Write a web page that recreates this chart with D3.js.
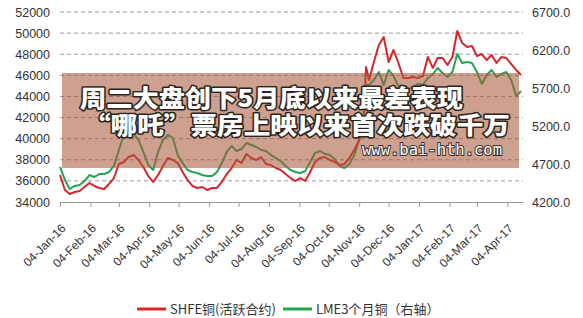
<!DOCTYPE html>
<html>
<head>
<meta charset="utf-8">
<script src="https://cdn.jsdelivr.net/npm/d3@7"></script>
<style>
  body { margin: 0; background: #fff; }
  #chart svg { display: block; }
</style>
</head>
<body>
<div id="chart"></div>
<script>
// sample dates (roughly every 5 days)
const dates = [
  "2016-01-04","2016-01-09","2016-01-14","2016-01-19","2016-01-24","2016-01-29",
  "2016-02-03","2016-02-08","2016-02-13","2016-02-18","2016-02-23","2016-02-28",
  "2016-03-04","2016-03-09","2016-03-14","2016-03-19","2016-03-24","2016-03-29",
  "2016-04-03","2016-04-08","2016-04-13","2016-04-18","2016-04-23","2016-04-28",
  "2016-05-03","2016-05-08","2016-05-13","2016-05-18","2016-05-23","2016-05-28",
  "2016-06-02","2016-06-07","2016-06-12","2016-06-17","2016-06-22","2016-06-27",
  "2016-07-02","2016-07-07","2016-07-12","2016-07-17","2016-07-22","2016-07-27",
  "2016-08-01","2016-08-06","2016-08-11","2016-08-16","2016-08-21","2016-08-26","2016-08-31",
  "2016-09-05","2016-09-10","2016-09-15","2016-09-20","2016-09-25","2016-09-30",
  "2016-10-05","2016-10-10","2016-10-15","2016-10-20","2016-10-25","2016-10-30",
  "2016-11-04","2016-11-09","2016-11-11","2016-11-14","2016-11-19","2016-11-24","2016-11-29",
  "2016-12-04","2016-12-09","2016-12-14","2016-12-19","2016-12-24","2016-12-29",
  "2017-01-03","2017-01-08","2017-01-13","2017-01-18","2017-01-23","2017-01-28",
  "2017-02-02","2017-02-07","2017-02-12","2017-02-17","2017-02-22","2017-02-27",
  "2017-03-04","2017-03-09","2017-03-14","2017-03-19","2017-03-24","2017-03-29",
  "2017-04-03","2017-04-08","2017-04-13","2017-04-18"
];

const shfe = [
  36560, 35140, 34760, 34950, 35040, 35420,
  35800, 35520, 35330, 35230, 35710, 36270,
  37600, 37790, 38260, 38450, 37980, 37320,
  36460, 35900, 36560, 37410, 38170, 37980,
  37700, 36840, 36080, 35520, 35330, 35420,
  35140, 35330, 35330, 35900, 36650, 37220,
  37980, 37700, 38550, 38170, 37980, 38260,
  37600, 37500, 37220, 37030, 36650, 36270, 35990,
  36270, 35990, 36840, 37790, 38170, 38260,
  37980, 37790, 37500, 37600, 38170, 38930,
  39870, 42700, 46790, 45560, 47260, 48870, 49630,
  47260, 48400, 47170, 45750, 45750, 45840,
  45750, 45940, 47740, 46700, 47640, 47640,
  46980, 47740, 50200, 49060, 48690, 48780,
  47830, 48020, 47450, 47930, 47170, 47740,
  47640, 47070, 46510, 46030
];

const lme = [
  4661, 4490, 4371, 4411, 4424, 4476,
  4555, 4529, 4568, 4568, 4595, 4674,
  4884, 5082, 5121, 5095, 5016, 4858,
  4687, 4621, 4858, 5016, 5082, 5042,
  4818, 4713, 4621, 4595, 4582, 4555,
  4542, 4542, 4595, 4713, 4858, 4937,
  4871, 4897, 4976, 4950, 4924, 4884,
  4871, 4818, 4779, 4739, 4674, 4621, 4595,
  4582, 4608, 4726, 4845, 4871, 4832,
  4818, 4766, 4674, 4647, 4700, 4818,
  5016, 5345, 5739, 5739, 5805, 5911, 5739,
  5937, 5858, 5726, 5700, 5687, 5713,
  5753, 5739, 5832, 5884, 5963, 5897,
  5845, 5911, 6147, 6029, 6042, 6029,
  5911, 5753, 5871, 5937, 5845, 5884,
  5911, 5805, 5595, 5660
];

const leftTicks = [34000, 36000, 38000, 40000, 42000, 44000, 46000, 48000, 50000, 52000];
const rightTicks = [4200, 4700, 5200, 5700, 6200, 6700];
const monthTicks = [
  "2016-01-04","2016-02-04","2016-03-04","2016-04-04","2016-05-04","2016-06-04",
  "2016-07-04","2016-08-04","2016-09-04","2016-10-04","2016-11-04","2016-12-04",
  "2017-01-04","2017-02-04","2017-03-04","2017-04-04"
];
const seriesNames = ["SHFE铜(活跃合约)", "LME3个月铜（右轴）"];
const titleLines = ["周二大盘创下5月底以来最差表现", "“哪吒”票房上映以来首次跌破千万"];
const siteText = "www.bai-hth.com";

function renderChart() {
    const width = 583;
    const height = 318;
    const parse = d3.timeParse('%Y-%m-%d');
    const red = '#d6262b';
    const green = '#27a354';

    const svg = d3.select('#chart').append('svg')
      .attr('width', width)
      .attr('height', height)
      .style('font-family', '"Liberation Sans", Arial, sans-serif');

    const x = d3.scaleTime()
      .domain([parse(dates[0]), parse('2017-04-20')])
      .range([60, 523]);
    const yLeft = d3.scaleLinear().domain([34000, 52000]).range([202, 12]);
    const yRight = d3.scaleLinear().domain([4200, 6700]).range([202, 12]);

    // dashed grid on the left axis ticks
    svg.append('g')
      .selectAll('line')
      .data(leftTicks.slice(1))
      .enter().append('line')
      .attr('x1', 60).attr('x2', 523)
      .attr('y1', d => yLeft(d)).attr('y2', d => yLeft(d))
      .attr('stroke', '#9a9a9a')
      .attr('stroke-width', 1)
      .attr('stroke-dasharray', '4,3');

    // x axis
    const xAxis = svg.append('g')
      .attr('transform', 'translate(0,202)')
      .call(d3.axisBottom(x)
        .tickValues(monthTicks.map(parse))
        .tickSize(5)
        .tickSizeOuter(0)
        .tickFormat(d3.timeFormat('%d-%b-%y')));
    xAxis.select('.domain').attr('stroke', '#9a9a9a');
    xAxis.selectAll('.tick line').attr('stroke', '#9a9a9a');
    xAxis.selectAll('text')
      .attr('x', 0).attr('y', 0).attr('dy', 0)
      .attr('text-anchor', 'end')
      .attr('transform', 'translate(6,27) rotate(-45)')
      .attr('fill', '#333')
      .style('font-size', '12px')
      .style('font-family', '"Liberation Sans", Arial, sans-serif');

    // left axis
    const leftAxis = svg.append('g')
      .attr('transform', 'translate(50,0)')
      .call(d3.axisLeft(yLeft).tickValues(leftTicks).tickSize(0).tickPadding(0)
        .tickFormat(d3.format('d')));
    leftAxis.select('.domain').remove();
    leftAxis.selectAll('text')
      .attr('fill', '#333')
      .style('font-size', '12.5px')
      .style('font-family', '"Liberation Sans", Arial, sans-serif');

    // right axis
    const rightAxis = svg.append('g')
      .attr('transform', 'translate(532,0)')
      .call(d3.axisRight(yRight).tickValues(rightTicks).tickSize(0).tickPadding(0)
        .tickFormat(d3.format('.1f')));
    rightAxis.select('.domain').remove();
    rightAxis.selectAll('text')
      .attr('fill', '#333')
      .style('font-size', '12.5px')
      .style('font-family', '"Liberation Sans", Arial, sans-serif');

    const rows = dates.map((d, i) => ({ date: parse(d), shfe: shfe[i], lme: lme[i] }));

    const lineLeft = d3.line().x(d => x(d.date)).y(d => yLeft(d.shfe));
    const lineRight = d3.line().x(d => x(d.date)).y(d => yRight(d.lme));

    svg.append('path')
      .datum(rows)
      .attr('d', lineRight)
      .attr('fill', 'none')
      .attr('stroke', green)
      .attr('stroke-width', 2)
      .attr('stroke-linejoin', 'round');

    svg.append('path')
      .datum(rows)
      .attr('d', lineLeft)
      .attr('fill', 'none')
      .attr('stroke', red)
      .attr('stroke-width', 2)
      .attr('stroke-linejoin', 'round');

    // legend
    const legend = svg.append('g').style('font-family', '"Noto Sans CJK SC", sans-serif');
    const legendItems = [
      { name: seriesNames[0], color: red, x: 137 },
      { name: seriesNames[1], color: green, x: 283 }
    ];
    legendItems.forEach(item => {
      legend.append('line')
        .attr('x1', item.x).attr('x2', item.x + 29)
        .attr('y1', 309).attr('y2', 309)
        .attr('stroke', item.color)
        .attr('stroke-width', 3);
      legend.append('text')
        .attr('x', item.x + 33)
        .attr('y', 314)
        .attr('fill', '#333')
        .style('font-size', '13px')
        .text(item.name);
    });

    // brown banner laid over the chart
    svg.append('rect')
      .attr('x', 62).attr('y', 73)
      .attr('width', 457).attr('height', 95)
      .attr('fill', '#a8583a')
      .attr('fill-opacity', 0.57);

    const title = svg.append('g')
      .style('font-family', '"Noto Sans CJK SC", sans-serif')
      .style('font-weight', 900)
      .style('font-size', '24px');
    title.selectAll('text')
      .data(titleLines)
      .enter().append('text')
      .attr('x', (d, i) => i === 0 ? 80 : 84)
      .attr('y', (d, i) => i === 0 ? 107 : 134)
      .attr('textLength', (d, i) => i === 0 ? 383 : 426)
      .attr('lengthAdjust', 'spacingAndGlyphs')
      .attr('fill', '#fff')
      .attr('stroke', '#2b2520')
      .attr('stroke-width', 3)
      .attr('stroke-linejoin', 'round')
      .attr('paint-order', 'stroke')
      .text(d => d);

    svg.append('text')
      .attr('x', 362)
      .attr('y', 155)
      .attr('fill', '#fff')
      .attr('stroke', '#3a302a')
      .attr('stroke-width', 2)
      .attr('paint-order', 'stroke')
      .style('font-family', '"DejaVu Sans Mono", monospace')
      .style('font-size', '15.5px')
      .text(siteText);
}

renderChart();
</script>
</body>
</html>
